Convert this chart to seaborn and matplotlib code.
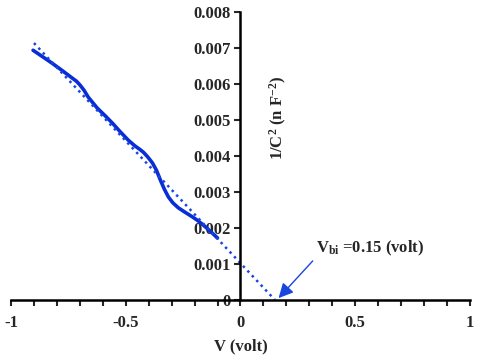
import numpy as np
import pandas as pd
import seaborn as sns
import matplotlib.pyplot as plt
from matplotlib.ticker import MultipleLocator

volts = [-0.904, -0.860, -0.821, -0.780, -0.734, -0.715, -0.699, -0.682,
         -0.664, -0.624, -0.590, -0.559, -0.525, -0.489, -0.460, -0.440,
         -0.424, -0.405, -0.384, -0.366, -0.349, -0.332, -0.314, -0.295,
         -0.271, -0.240, -0.210, -0.185, -0.162, -0.130, -0.100]
inv_c2 = [0.00694, 0.00675, 0.00658, 0.00639, 0.00617, 0.00608, 0.00597,
          0.00583, 0.00564, 0.00533, 0.00512, 0.00492, 0.00468, 0.00444,
          0.00428, 0.00419, 0.00411, 0.00398, 0.00381, 0.00360, 0.00333,
          0.00308, 0.00286, 0.00270, 0.00256, 0.00243, 0.00231, 0.00220,
          0.00208, 0.00190, 0.00172]

# linear fit extrapolated to the axis
fit_v = [-0.90, 0.15]
fit_y = [0.00714, 0.0]

vbi = 0.15

x_ticks = [-1, -0.5, 0, 0.5, 1]
x_labels = ["-1", "-0.5", "0", "0.5", "1"]
y_ticks = [0, 0.001, 0.002, 0.003, 0.004, 0.005, 0.006, 0.007, 0.008]
y_labels = ["0", "0.001", "0.002", "0.003", "0.004", "0.005", "0.006",
            "0.007", "0.008"]

sns.set_style("white")
plt.rcParams['font.family'] = ['Liberation Serif', 'DejaVu Serif']
plt.rcParams['font.weight'] = 'bold'
plt.rcParams['mathtext.fontset'] = 'custom'
plt.rcParams['mathtext.rm'] = 'Liberation Serif:bold'
plt.rcParams['mathtext.it'] = 'Liberation Serif:bold'
plt.rcParams['mathtext.bf'] = 'Liberation Serif:bold'
plt.rcParams['mathtext.default'] = 'rm'

df = pd.DataFrame({"V": volts, "C": inv_c2})
fit = pd.DataFrame({"V": fit_v, "C": fit_y})

fig = plt.figure(figsize=(4.8, 3.57), dpi=100)
ax = fig.add_axes([0.023, 0.160, 0.956, 0.806])

sns.lineplot(data=df, x="V", y="C", ax=ax, color="#0a2ed6", lw=2.6,
             solid_joinstyle='round', solid_capstyle='round')
sns.lineplot(data=fit, x="V", y="C", ax=ax, color="#1a45e0", lw=1.8,
             linestyle=(0, (1, 1.6)))

ax.set_xlim(-1, 1)
ax.set_ylim(0, 0.008)

# spines crossing at the origin
ax.spines['left'].set_position(('data', 0))
ax.spines['bottom'].set_position(('data', 0))
ax.spines['top'].set_visible(False)
ax.spines['right'].set_visible(False)
for s in ['left', 'bottom']:
    ax.spines[s].set_linewidth(1.8)
    ax.spines[s].set_color('black')

ax.set_xticks(x_ticks)
ax.set_xticklabels(x_labels)
ax.xaxis.set_minor_locator(MultipleLocator(0.1))
ax.set_yticks(y_ticks)
ax.set_yticklabels(y_labels)
ax.tick_params(axis='x', which='both', direction='out', length=4, width=1.5,
               labelsize=12, pad=7, bottom=True)
ax.tick_params(axis='y', direction='out', length=4, width=1.5,
               labelsize=12, pad=3, left=True)

ax.set_xlabel("V (volt)", fontsize=12, fontweight='bold')
ax.xaxis.label.set_va('center')
ax.xaxis.set_label_coords(0.501, -0.16)
ax.set_ylabel("1/C$^2$ (n F$^{-2}$)", fontsize=12, fontweight='bold')
ax.yaxis.label.set_va('center')
ax.yaxis.set_label_coords(0.582, 0.632)

ax.annotate("V$_{bi}$ =0.15 (volt)", xy=(vbi + 0.016, 0.00005),
            xytext=(0.328, 0.00133), fontsize=12, fontweight='bold',
            ha='left', va='baseline',
            arrowprops=dict(arrowstyle='-|>', color='#1a45e0', lw=1,
                            mutation_scale=22, shrinkA=0, shrinkB=0,
                            relpos=(0, 0)))

plt.savefig("out.png", dpi=100)
